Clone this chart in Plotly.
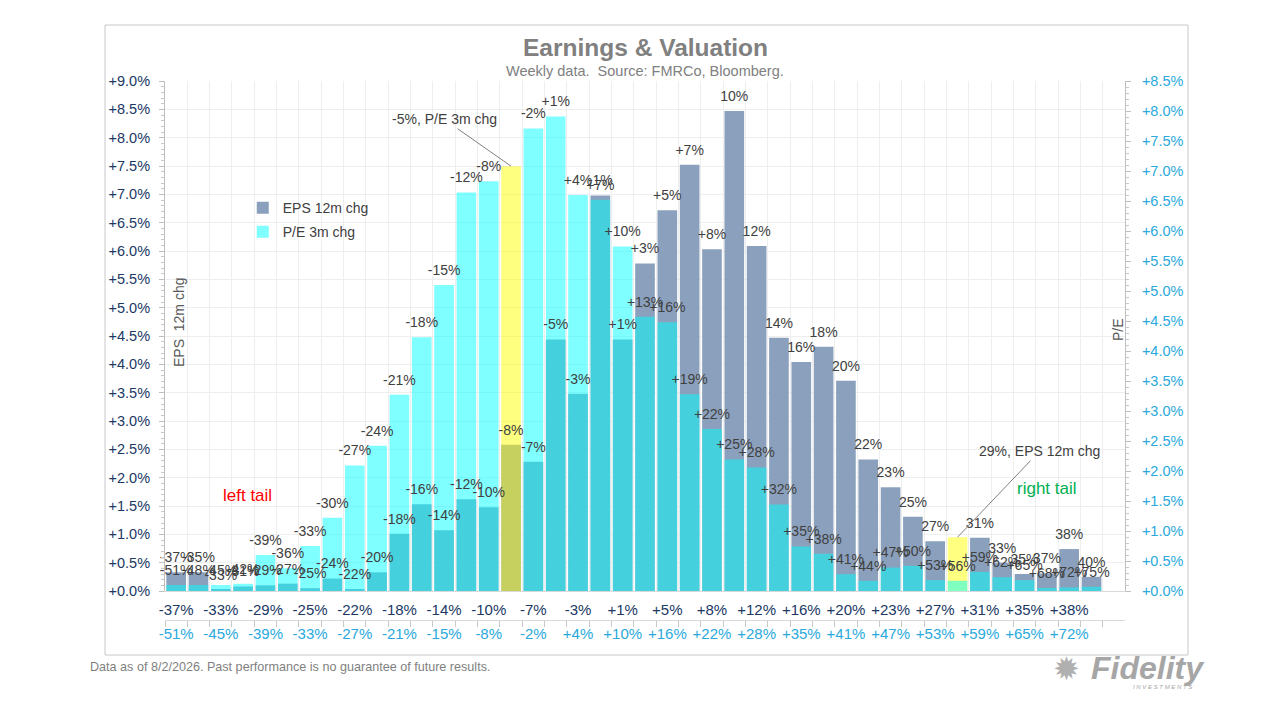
import plotly.graph_objects as go

# EPS 12m change bins (left axis) and P/E 3m change bins (right axis)
eps_bins = ["-37%", "-35%", "-33%", "-31%", "-29%", "-27%", "-25%", "-24%", "-22%", "-20%",
            "-18%", "-16%", "-14%", "-12%", "-10%", "-8%", "-7%", "-5%", "-3%", "-1%",
            "+1%", "+3%", "+5%", "+7%", "+8%", "+10%", "+12%", "+14%", "+16%", "+18%",
            "+20%", "+22%", "+23%", "+25%", "+27%", "+29%", "+31%", "+33%", "+35%", "+37%",
            "+38%", "+40%"]
pe_bins = ["-51%", "-48%", "-45%", "-42%", "-39%", "-36%", "-33%", "-30%", "-27%", "-24%",
           "-21%", "-18%", "-15%", "-12%", "-8%", "-5%", "-2%", "+1%", "+4%", "+7%",
           "+10%", "+13%", "+16%", "+19%", "+22%", "+25%", "+28%", "+32%", "+35%", "+38%",
           "+41%", "+44%", "+47%", "+50%", "+53%", "+56%", "+59%", "+62%", "+65%", "+68%",
           "+72%", "+75%"]

# share of weeks in each bin (%)
eps_share = [0.33, 0.33, 0.02, 0.08, 0.10, 0.13, 0.05, 0.22, 0.03, 0.33,
             1.01, 1.53, 1.07, 1.62, 1.48, 2.58, 2.28, 4.44, 3.48, 6.98,
             4.44, 5.78, 6.72, 7.52, 6.03, 8.47, 6.09, 4.47, 4.04, 4.31,
             3.71, 2.32, 1.83, 1.31, 0.88, 0.95, 0.94, 0.50, 0.30, 0.31,
             0.74, 0.25]
pe_share = [0.10, 0.10, 0.10, 0.12, 0.60, 0.38, 0.75, 1.22, 2.09, 2.42,
            3.27, 4.23, 5.10, 6.64, 6.83, 7.08, 7.71, 7.91, 6.60, 6.52,
            5.74, 4.57, 4.48, 3.28, 2.70, 2.19, 2.06, 1.44, 0.74, 0.62,
            0.28, 0.17, 0.39, 0.42, 0.18, 0.17, 0.32, 0.23, 0.18, 0.05,
            0.06, 0.07]

# latest readings (highlighted bins)
eps_now = "+29%"
pe_now = "-5%"

# axis ticks
left_ticks = [i * 0.5 for i in range(19)]
right_ticks = [i * 0.5 for i in range(18)]

FONT = "Arial, Liberation Sans, sans-serif"
EPS_GREY = "#8BA0BD"
PE_CYAN = "rgba(0,255,255,0.5)"
LABEL = "#404040"

eps_colors = ["#FFFF80" if b == eps_now else EPS_GREY for b in eps_bins]
pe_colors = ["rgba(255,255,0,0.5)" if b == pe_now else PE_CYAN for b in pe_bins]

# bar labels (the two-digit positive EPS labels have no plus sign in the original)
eps_text = ["" if b == eps_now else (b[1:] if b[0] == "+" and len(b) > 3 else b) for b in eps_bins]
pe_text = ["" if b == pe_now else b for b in pe_bins]

fig = go.Figure()

fig.add_trace(go.Bar(x=eps_bins, y=eps_share, name="EPS 12m chg", width=0.88,
                     marker=dict(color=eps_colors, line_width=0),
                     xaxis="x", yaxis="y", legendgroup="eps"))
fig.add_trace(go.Bar(x=pe_bins, y=pe_share, name="P/E 3m chg", width=0.88,
                     marker=dict(color=pe_colors, line_width=0),
                     xaxis="x2", yaxis="y2", legendgroup="pe"))

# labels: invisible markers push the text a little above the bar tops
label_marker = dict(size=9, color="rgba(0,0,0,0)")
fig.add_trace(go.Scatter(x=pe_bins, y=pe_share, mode="markers+text", text=pe_text,
                         textposition="top center", textfont=dict(size=14, color=LABEL),
                         marker=label_marker,
                         xaxis="x2", yaxis="y2", showlegend=False, hoverinfo="skip",
                         cliponaxis=False))
# EPS labels live on a hidden overlay so they sit above the P/E bars
fig.add_trace(go.Scatter(x=eps_bins, y=eps_share, mode="markers+text", text=eps_text,
                         textposition="top center", textfont=dict(size=14, color=LABEL),
                         marker=label_marker,
                         xaxis="x3", yaxis="y3", showlegend=False, hoverinfo="skip",
                         cliponaxis=False))

y_dom = [29 / 539, 1]
x_range = [-0.5, len(eps_bins) + 0.5]

# the page adds an 8px body margin, so the margins are shifted by 8px
fig.update_layout(
    width=1280, height=720,
    margin=dict(l=157, r=163, t=73, b=108),
    paper_bgcolor="white", plot_bgcolor="white",
    font=dict(family=FONT, color=LABEL),
    barmode="overlay",
    showlegend=True,
    legend=dict(x=0.081, y=0.794, xanchor="left", yanchor="top",
                font=dict(size=14, color=LABEL), bgcolor="rgba(0,0,0,0)",
                tracegroupgap=3, itemwidth=30),
    xaxis=dict(type="category", range=x_range, anchor="y",
               tickmode="array", tickvals=eps_bins,
               ticktext=[b if i % 2 == 0 else "" for i, b in enumerate(eps_bins)],
               tickangle=0,
               tickson="boundaries", ticks="outside", ticklen=6,
               tickcolor="rgba(0,0,0,0)", ticklabelstandoff=5,
               showgrid=True, gridcolor="#EEEEEE",
               showline=True, linecolor="#D9D9D9",
               tickfont=dict(size=15, color="#203864"), zeroline=False),
    xaxis2=dict(type="category", range=x_range, overlaying="x", anchor="free",
                position=0, side="bottom",
                tickmode="array", tickvals=pe_bins,
                ticktext=[b if i % 2 == 0 else "" for i, b in enumerate(pe_bins)],
                tickangle=0,
                tickson="boundaries", ticks="outside", ticklen=6, tickcolor="#C8C8C8",
                showgrid=False, showline=True, linecolor="#D9D9D9",
                tickfont=dict(size=15, color="#2AA9DC"), zeroline=False),
    xaxis3=dict(type="category", range=x_range, overlaying="x", anchor="y3",
                visible=False),
    yaxis=dict(domain=y_dom, range=[0, 9],
               tickmode="array", tickvals=left_ticks,
               ticktext=[f"+{v:.1f}%" for v in left_ticks],
               ticks="outside", ticklen=5, tickcolor="#BFBFBF", ticklabelstandoff=6,
               minor=dict(dtick=0.1, ticks="outside", ticklen=3, tickcolor="#C8C8C8"),
               showline=True, linecolor="#BFBFBF",
               showgrid=True, gridcolor="#EEEEEE", zeroline=False,
               tickfont=dict(size=14.5, color="#203864"), anchor="x"),
    yaxis2=dict(domain=y_dom, range=[0, 8.5],
                tickmode="array", tickvals=right_ticks,
                ticktext=[f"+{v:.1f}%" for v in right_ticks],
                overlaying="y", side="right", anchor="x",
                ticks="outside", ticklen=5, tickcolor="#BFBFBF", ticklabelstandoff=8,
                minor=dict(dtick=0.1, ticks="outside", ticklen=3, tickcolor="#C8C8C8"),
                showline=True, linecolor="#BFBFBF",
                showgrid=False, zeroline=False,
                tickfont=dict(size=14.5, color="#2AA9DC")),
    yaxis3=dict(domain=y_dom, range=[0, 9], overlaying="y", anchor="x3", visible=False),
)

# chart frame
fig.add_shape(type="rect", xref="paper", yref="paper",
              x0=-60 / 960, x1=1023 / 960, y0=-35 / 539, y1=595 / 539,
              line=dict(color="#C8C8C8", width=1), fillcolor="rgba(0,0,0,0)", layer="below")

notes = [
    dict(text="<b>Earnings & Valuation</b>", x=0.5, y=(620 - 48) / 539,
         font=dict(size=24.5, color="#808080")),
    dict(text="Weekly data. \u00a0Source: FMRCo, Bloomberg.", x=0.5, y=(620 - 71) / 539,
         font=dict(size=14.5, color="#808080")),
    dict(text="left tail", x=(247 - 165) / 960, y=(620 - 495) / 539,
         font=dict(size=17, color="#FF0000")),
    dict(text="right tail", x=(1047 - 165) / 960, y=(620 - 488) / 539,
         font=dict(size=17, color="#00B050")),
    dict(text="EPS \u00a012m chg", x=(179 - 165) / 960, y=(620 - 322) / 539, textangle=-90,
         font=dict(size=14, color="#595959")),
    dict(text="P/E", x=(1118 - 165) / 960, y=(620 - 330) / 539, textangle=-90,
         font=dict(size=14, color="#595959")),
    dict(text="Data as of 8/2/2026. Past performance is no guarantee of future results.",
         x=(88 - 165) / 960, y=(620 - 667) / 539, xanchor="left",
         font=dict(size=12.6, color="#7F7F7F")),
    dict(text="<b><i>Fidelity</i></b>", x=(1148 - 165) / 960, y=(620 - 668) / 539,
         font=dict(size=32, color="#A6A6A6")),
    dict(text="<i>I N V E S T M E N T S</i>", x=(1162 - 165) / 960, y=(620 - 687) / 539,
         font=dict(size=6, color="#A6A6A6")),
    dict(text="\u2739", x=(1066 - 165) / 960, y=(620 - 669) / 539,
         font=dict(size=32, color="#B0B0B0")),
]
for n in notes:
    fig.add_annotation(xref="paper", yref="paper", showarrow=False,
                       xanchor=n.pop("xanchor", "center"), yanchor="middle", **n)

# callouts for the latest readings
fig.add_annotation(x=pe_now, y=pe_share[pe_bins.index(pe_now)], xref="x2", yref="y2",
                   text="-5%, P/E 3m chg", showarrow=True, arrowhead=0, arrowwidth=1,
                   arrowcolor="#808080", ax=-67, ay=-47,
                   font=dict(size=14, color=LABEL))
fig.add_annotation(x=eps_now, y=eps_share[eps_bins.index(eps_now)], xref="x", yref="y",
                   text="29%, EPS 12m chg", showarrow=True, arrowhead=0, arrowwidth=1,
                   arrowcolor="#808080", ax=82, ay=-86,
                   font=dict(size=14, color=LABEL))

fig.write_html("out.html")
